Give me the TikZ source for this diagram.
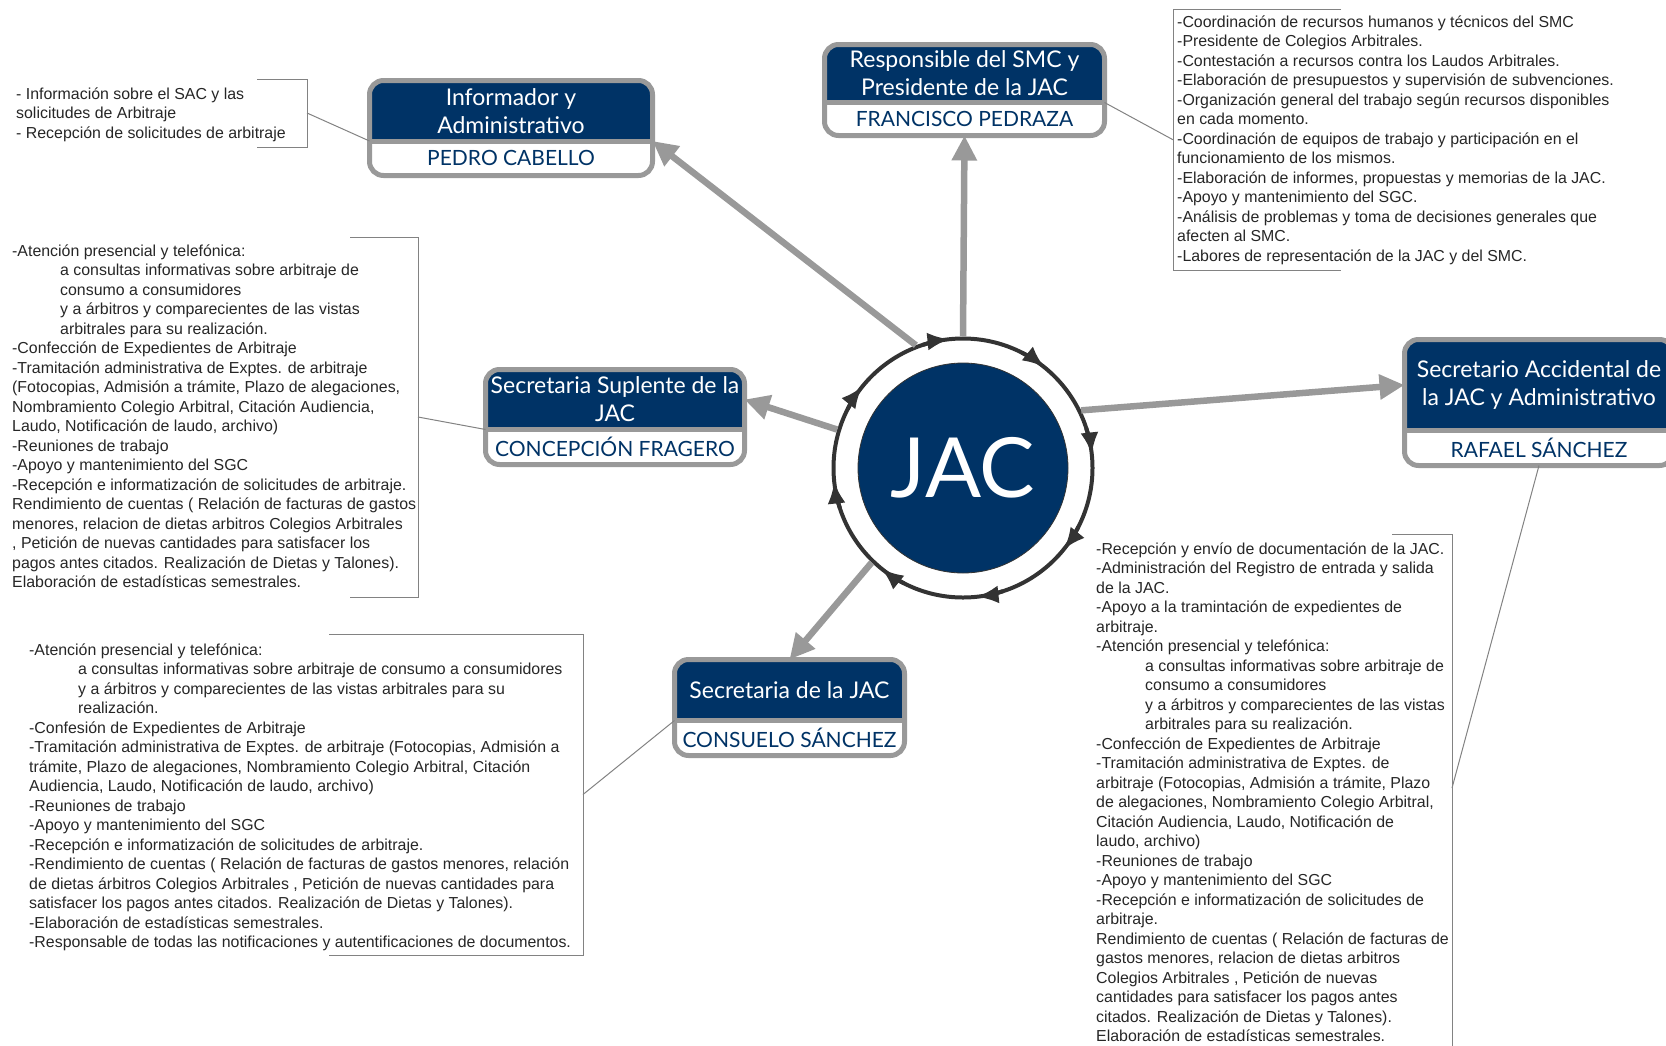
\documentclass[tikz,border=0pt]{standalone}
\usepackage{fontspec}
\setmainfont{Liberation Sans}
\newfontfamily\titlefont{Lato}
\usetikzlibrary{arrows.meta,positioning,backgrounds}

\definecolor{jacblue}{RGB}{0,51,102}
\definecolor{boxgray}{RGB}{153,153,153}
\definecolor{ringgray}{RGB}{51,51,51}
\definecolor{notegray}{RGB}{130,130,130}

\tikzset{
  rolehead/.style={inner sep=0pt, outer sep=0pt, align=center, text=white,
    font=\titlefont\fontsize{23}{28}\selectfont},
  rolename/.style={inner sep=0pt, outer sep=0pt, text=jacblue,
    font=\titlefont\fontsize{21}{25}\selectfont},
  boxline/.style={draw=boxgray, line width=5pt},
  link/.style={draw=boxgray, line width=6.5pt, -{Triangle[length=25pt,width=24pt]}},
  ringarrow/.style={draw=ringgray, line width=4pt, -{Latex[length=22pt,width=18pt]}},
  notetext/.style={inner sep=0pt, align=left, text=black!85,
    font=\fontsize{15.9}{19.5}\selectfont},
  bracket/.style={draw=notegray, line width=1pt},
}

\begin{document}
\begin{tikzpicture}[x=1pt, y=-1pt]
\useasboundingbox (0,0) rectangle (1666,1045);

% centre
\node[circle, fill=jacblue, draw=black!80, line width=0.8pt, minimum size=210pt, inner sep=0pt,
  text=white, font=\titlefont\fontsize{83}{90}\selectfont] (jac) at (963,468) {JAC};
\node[circle, draw=ringgray, line width=4pt, minimum size=259pt, inner sep=0pt, outer sep=2pt] (ring) at (jac.center) {};
\foreach \a in {-96,-51,...,219}
  \draw[ringarrow] (ring.center) ++(\a-12:129.5) arc[start angle=\a-12, end angle=\a, radius=129.5];

% roles
\node[rolehead, minimum width=283pt, minimum height=60.5pt] (info) at (511,110.75) {Informador y\\Administrativo};
\node[rolename, minimum width=283pt, minimum height=34.5pt, below=0pt of info] (infoname) {PEDRO CABELLO};

\node[rolehead, minimum width=280pt, minimum height=58pt] (pres) at (964.5,73.5) {Responsible del SMC y\\Presidente de la JAC};
\node[rolename, minimum width=280pt, minimum height=33pt, below=0pt of pres] (presname) {FRANCISCO PEDRAZA};

\node[rolehead, minimum width=259pt, minimum height=60pt] (supl) at (615,399.5) {Secretaria Suplente de la\\JAC};
\node[rolename, minimum width=259pt, minimum height=35pt, below=0pt of supl] (suplname) {CONCEPCIÓN FRAGERO};

\node[rolehead, minimum width=269pt, minimum height=91pt] (acc) at (1539,385) {Secretario Accidental de\\la JAC y Administrativo};
\node[rolename, minimum width=269pt, minimum height=35pt, below=0pt of acc] (accname) {RAFAEL SÁNCHEZ};

\node[rolehead, minimum width=230pt, minimum height=61pt] (secr) at (789.5,690) {Secretaria de la JAC};
\node[rolename, minimum width=230pt, minimum height=35pt, below=0pt of secr] (secrname) {CONSUELO SÁNCHEZ};

\begin{scope}[on background layer]
\foreach \h/\n in {info/infoname, pres/presname, supl/suplname, acc/accname, secr/secrname} {
  \fill[white, rounded corners=14pt] (\h.north west) rectangle (\n.south east);
  \fill[jacblue] (\h.south west) {[rounded corners=14pt] -- (\h.north west) -- (\h.north east)} -- (\h.south east) -- cycle;
  \draw[boxline, rounded corners=14pt] (\h.north west) rectangle (\n.south east);
  \draw[boxline] (\h.south west) -- (\h.south east);
}
\end{scope}

\draw[link] (ring.111) -- (info.south east);
\draw[link] (ring.90) -- (presname.south);
\draw[link] (ring.163) -- (supl.east);
\draw[link] (ring.26) -- (acc.west);
\draw[link] (ring.226) -- (secr.north);

% notes (anchored at the baseline of their last line)
\node[notetext, anchor=base west] (infonote) at (16,138) {- Información sobre el SAC y las\\
solicitudes de Arbitraje\\
- Recepción de solicitudes de arbitraje};
\coordinate (infotie) at (307,113);
\draw[bracket] (257,79) -- (307,79) -- (307,147) -- (257,147);
\draw[bracket] (infotie) -- (info.south west);

\node[notetext, anchor=base west] (presnote) at (1177,261) {-Coordinación de recursos humanos y técnicos del SMC\\
-Presidente de Colegios Arbitrales.\\
-Contestación a recursos contra los Laudos Arbitrales.\\
-Elaboración de presupuestos y supervisión de subvenciones.\\
-Organización general del trabajo según recursos disponibles\\
en cada momento.\\
-Coordinación de equipos de trabajo y participación en el\\
funcionamiento de los mismos.\\
-Elaboración de informes, propuestas y memorias de la JAC.\\
-Apoyo y mantenimiento del SGC.\\
-Análisis de problemas y toma de decisiones generales que\\
afecten al SMC.\\
-Labores de representación de la JAC y del SMC.};
\coordinate (prestie) at (1173,139.75);
\draw[bracket] (1341,9.5) -- (1173,9.5) -- (1173,270) -- (1341,270);
\draw[bracket] (prestie) -- (pres.south east);

\node[notetext, anchor=base west] (suplnote) at (12,587.5) {-Atención presencial y telefónica:\\
\hspace*{48pt}a consultas informativas sobre arbitraje de\\
\hspace*{48pt}consumo a consumidores\\
\hspace*{48pt}y a árbitros y comparecientes de las vistas\\
\hspace*{48pt}arbitrales para su realización.\\
-Confección de Expedientes de Arbitraje\\
-Tramitación administrativa de Exptes. de arbitraje\\
(Fotocopias, Admisión a trámite, Plazo de alegaciones,\\
Nombramiento Colegio Arbitral, Citación Audiencia,\\
Laudo, Notificación de laudo, archivo)\\
-Reuniones de trabajo\\
-Apoyo y mantenimiento del SGC\\
-Recepción e informatización de solicitudes de arbitraje.\\
Rendimiento de cuentas ( Relación de facturas de gastos\\
menores, relacion de dietas arbitros Colegios Arbitrales\\
, Petición de nuevas cantidades para satisfacer los\\
pagos antes citados. Realización de Dietas y Talones).\\
Elaboración de estadísticas semestrales.};
\coordinate (supltie) at (418,417);
\draw[bracket] (350,237) -- (418,237) -- (418,597) -- (350,597);
\draw[bracket] (supltie) -- (supl.south west);

\node[notetext, anchor=base west] (secrnote) at (29,947.5) {-Atención presencial y telefónica:\\
\hspace*{49pt}a consultas informativas sobre arbitraje de consumo a consumidores\\
\hspace*{49pt}y a árbitros y comparecientes de las vistas arbitrales para su\\
\hspace*{49pt}realización.\\
-Confesión de Expedientes de Arbitraje\\
-Tramitación administrativa de Exptes. de arbitraje (Fotocopias, Admisión a\\
trámite, Plazo de alegaciones, Nombramiento Colegio Arbitral, Citación\\
Audiencia, Laudo, Notificación de laudo, archivo)\\
-Reuniones de trabajo\\
-Apoyo y mantenimiento del SGC\\
-Recepción e informatización de solicitudes de arbitraje.\\
-Rendimiento de cuentas ( Relación de facturas de gastos menores, relación\\
de dietas árbitros Colegios Arbitrales , Petición de nuevas cantidades para\\
satisfacer los pagos antes citados. Realización de Dietas y Talones).\\
-Elaboración de estadísticas semestrales.\\
-Responsable de todas las notificaciones y autentificaciones de documentos.};
\coordinate (secrtie) at (583,794.5);
\draw[bracket] (329,634) -- (583,634) -- (583,955) -- (329,955);
\draw[bracket] (secrtie) -- (secr.south west);

\node[notetext, anchor=base west] (accnote) at (1096,1041.5) {-Recepción y envío de documentación de la JAC.\\
-Administración del Registro de entrada y salida\\
de la JAC.\\
-Apoyo a la tramintación de expedientes de\\
arbitraje.\\
-Atención presencial y telefónica:\\
\hspace*{49pt}a consultas informativas sobre arbitraje de\\
\hspace*{49pt}consumo a consumidores\\
\hspace*{49pt}y a árbitros y comparecientes de las vistas\\
\hspace*{49pt}arbitrales para su realización.\\
-Confección de Expedientes de Arbitraje\\
-Tramitación administrativa de Exptes. de\\
arbitraje (Fotocopias, Admisión a trámite, Plazo\\
de alegaciones, Nombramiento Colegio Arbitral,\\
Citación Audiencia, Laudo, Notificación de\\
laudo, archivo)\\
-Reuniones de trabajo\\
-Apoyo y mantenimiento del SGC\\
-Recepción e informatización de solicitudes de\\
arbitraje.\\
Rendimiento de cuentas ( Relación de facturas de\\
gastos menores, relacion de dietas arbitros\\
Colegios Arbitrales , Petición de nuevas\\
cantidades para satisfacer los pagos antes\\
citados. Realización de Dietas y Talones).\\
Elaboración de estadísticas semestrales.};
\coordinate (acctie) at (1452,788);
\draw[bracket] (1392,534) -- (1452,534) -- (1452,1050);
\draw[bracket] (acctie) -- (accname.south);
\end{tikzpicture}
\end{document}
